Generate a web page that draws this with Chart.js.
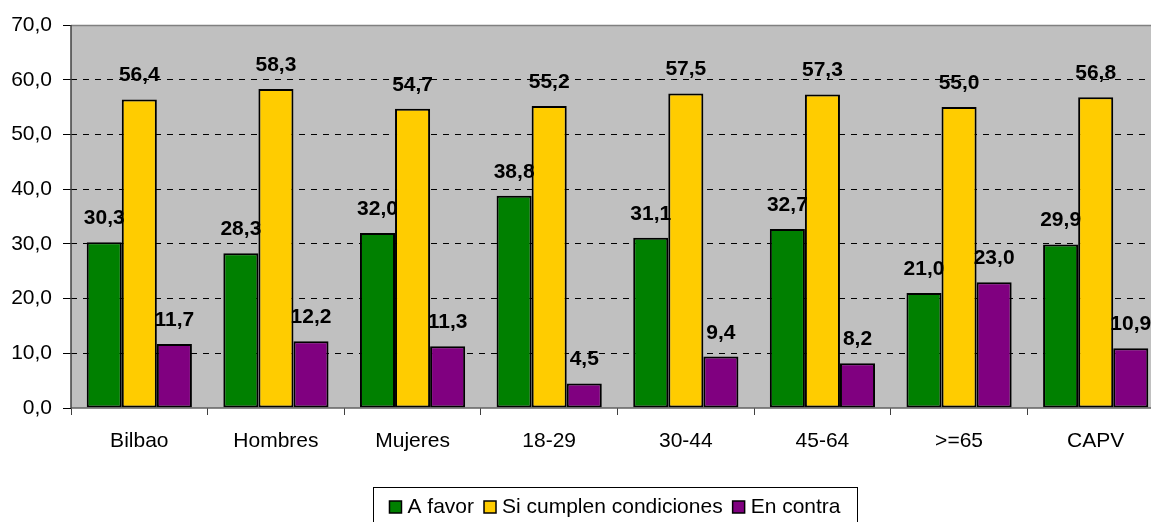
<!DOCTYPE html>
<html><head><meta charset="utf-8">
<script src="https://cdn.jsdelivr.net/npm/chart.js@4"></script>
<style>
html,body{margin:0;padding:0;overflow:hidden;background:#fff;width:1151px;height:522px}
#wrap{position:relative;width:1164px;height:522px}
</style></head><body><div id="wrap"><canvas id="c"></canvas></div>
<script>
const categories = ['Bilbao','Hombres','Mujeres','18-29','30-44','45-64','>=65','CAPV'];
const aFavor = [30.3,28.3,32.0,38.8,31.1,32.7,21.0,29.9];
const siCumplen = [56.4,58.3,54.7,55.2,57.5,57.3,55.0,56.8];
const enContra = [11.7,12.2,11.3,4.5,9.4,8.2,23.0,10.9];
const seriesNames = ['A favor','Si cumplen condiciones','En contra'];
const seriesColors = ['#008000','#FFCC00','#800080'];
const yTicks = [0,10,20,30,40,50,60,70];

const FONT = '"Liberation Sans", Arial, sans-serif';
const fmt = v => Number(v).toFixed(1).replace('.', ',');

const decor = {
  id: 'decor',
  beforeDraw(chart) {
    const {ctx, chartArea: a} = chart;
    ctx.save();
    ctx.fillStyle = '#fff';
    ctx.fillRect(0, 0, chart.width, chart.height);
    ctx.fillStyle = '#C0C0C0';
    ctx.fillRect(a.left, a.top, a.right - a.left, a.bottom - a.top);
    ctx.restore();
  },
  afterDatasetsDraw(chart) {
    const {ctx, chartArea: a} = chart;
    ctx.save();
    ctx.strokeStyle = '#808080';
    ctx.lineWidth = 1.5;
    ctx.beginPath(); ctx.moveTo(a.left, a.top + 0.5); ctx.lineTo(a.right, a.top + 0.5); ctx.stroke();
    ctx.strokeStyle = '#606060';
    ctx.beginPath(); ctx.moveTo(a.left, a.bottom); ctx.lineTo(a.right, a.bottom); ctx.stroke();
    ctx.strokeStyle = '#404040';
    ctx.beginPath(); ctx.moveTo(a.left, a.top); ctx.lineTo(a.left, a.bottom); ctx.stroke();
    ctx.fillStyle = '#000';
    ctx.font = 'bold 21px ' + FONT;
    ctx.textAlign = 'center';
    ctx.textBaseline = 'alphabetic';
    chart.data.datasets.forEach((ds, i) => {
      const meta = chart.getDatasetMeta(i);
      meta.data.forEach((bar, j) => {
        ctx.fillText(fmt(ds.data[j]), bar.x, bar.y - 18);
      });
    });
    ctx.restore();
  },
  afterDraw(chart) {
    const {ctx} = chart;
    ctx.save();
    const boxX = 373, boxY = 487, boxW = 484, boxH = 40;
    const sq = 12, sqGap = 6, itemGap = 10;
    ctx.fillStyle = '#fff';
    ctx.fillRect(boxX, boxY, boxW, boxH);
    ctx.strokeStyle = '#000';
    ctx.lineWidth = 1;
    ctx.strokeRect(boxX + 0.5, boxY + 0.5, boxW, boxH);
    ctx.font = '21px ' + FONT;
    ctx.textBaseline = 'alphabetic';
    ctx.textAlign = 'left';
    const dss = chart.data.datasets;
    const widths = dss.map(ds => ctx.measureText(ds.label).width);
    const total = widths.reduce((s, w) => s + sq + sqGap + w, 0) + itemGap * (dss.length - 1);
    let x = boxX + (boxW - total) / 2;
    dss.forEach((ds, i) => {
      ctx.fillStyle = ds.backgroundColor;
      ctx.fillRect(x, 501, sq, sq);
      ctx.strokeStyle = '#000';
      ctx.lineWidth = 1.5;
      ctx.strokeRect(x, 501, sq, sq);
      ctx.fillStyle = '#000';
      ctx.fillText(ds.label, x + sq + sqGap, 513);
      x += sq + sqGap + widths[i] + itemGap;
    });
    ctx.restore();
  }
};

new Chart(document.getElementById('c'), {
  type: 'bar',
  data: {
    labels: categories,
    datasets: [aFavor, siCumplen, enContra].map((d, i) => ({
      label: seriesNames[i],
      data: d,
      backgroundColor: seriesColors[i],
      borderColor: '#000',
      borderWidth: 2,
      borderSkipped: false,
      categoryPercentage: 0.77,
      barPercentage: 1.0
    }))
  },
  options: {
    responsive: true,
    maintainAspectRatio: false,
    animation: false,
    layout: {padding: {top: 25, left: 0, right: 0, bottom: 0}},
    plugins: {legend: {display: false}, tooltip: {enabled: false}},
    scales: {
      x: {
        afterFit(s) { s.height = 114; },
        offset: true,
        border: {display: false},
        grid: {offset: true, drawOnChartArea: false, drawTicks: true, tickLength: 7, color: '#404040', lineWidth: 1},
        ticks: {color: '#000', font: {family: FONT, size: 21}, padding: 14, maxRotation: 0, autoSkip: false}
      },
      y: {
        min: 0, max: 70,
        afterFit(s) { s.width = 71; },
        afterBuildTicks(s) { s.ticks = yTicks.map(v => ({value: v})); },
        border: {display: false, dash: [6,6]},
        grid: {
          color: c => (c.tick && (c.tick.value === 0 || c.tick.value === 70)) ? 'rgba(0,0,0,0)' : '#000',
          lineWidth: 1,
          drawTicks: true,
          tickLength: 8,
          tickColor: '#000',
          tickBorderDash: []
        },
        ticks: {color: '#000', font: {family: FONT, size: 21}, padding: 11, callback: v => fmt(v)}
      }
    }
  },
  plugins: [decor]
});
</script></body></html>
